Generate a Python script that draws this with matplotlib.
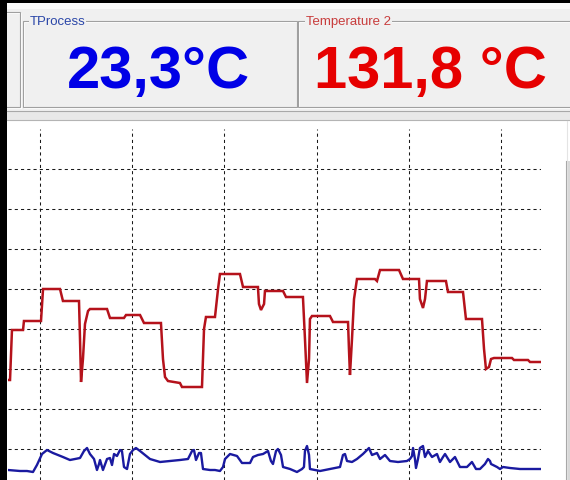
import matplotlib
matplotlib.use("Agg")
import matplotlib.pyplot as plt
from matplotlib.patches import Rectangle

# ---- data (time in minutes, temperature in chart units) ----
channel_names = ["TProcess", "Temperature 2"]
channel_values = ["23,3°C", "131,8 °C"]

temp2_t = [6.53, 6.75, 6.96, 8.16, 8.26, 10.11, 10.33, 12.17, 12.49, 14.23,
           14.34, 14.45, 14.66, 14.88, 15.21, 15.42, 17.27, 17.59, 19.11, 19.33,
           20.85, 21.28, 23.12, 23.34, 23.56, 23.88, 25.18, 25.40, 27.57, 27.79,
           28.00, 28.98, 29.31, 29.52, 31.69, 32.02, 33.64, 33.75, 33.97, 34.30,
           34.40, 36.36, 36.68, 38.52, 38.74, 38.96, 39.18, 39.28, 39.50, 41.45,
           41.78, 43.41, 43.51, 43.62, 43.84, 44.06, 44.38, 46.33, 46.55, 46.88,
           48.94, 49.37, 51.11, 51.21, 51.54, 51.76, 51.97, 54.03, 54.25, 55.88,
           56.20, 57.94, 58.16, 58.37, 58.70, 58.92, 59.24, 61.19, 61.41, 62.93,
           63.15, 64.34]
temp2_val = [109, 109, 159, 159, 168, 168, 200, 200, 188, 188,
             150, 107, 130, 165, 178, 180, 180, 171, 171, 174,
             174, 166, 166, 130, 112, 108, 106, 102, 102, 160,
             172, 172, 200, 215, 215, 202, 202, 185, 179, 185,
             198, 198, 192, 192, 150, 106, 130, 170, 173, 173,
             167, 167, 140, 114, 150, 190, 210, 210, 208, 219,
             219, 210, 210, 190, 181, 190, 208, 208, 197, 197,
             170, 170, 140, 120, 122, 130, 131, 131, 129, 129,
             127, 127]

tproc_t = [6.53, 7.83, 8.59, 9.24, 9.67, 10.22, 10.76, 11.41, 11.95, 12.49,
           13.25, 13.80, 14.34, 14.77, 15.10, 15.42, 15.86, 16.18, 16.40, 16.51,
           16.83, 17.27, 17.59, 17.81, 18.03, 18.35, 18.68, 18.89, 19.11, 19.44,
           19.76, 20.09, 20.41, 20.85, 21.39, 21.93, 23.02, 24.10, 25.18, 26.05,
           26.49, 26.70, 26.92, 27.25, 27.46, 27.68, 28.44, 28.98, 29.52, 29.85,
           30.07, 30.61, 31.37, 31.91, 32.45, 32.78, 33.10, 33.64, 34.19, 34.73,
           35.05, 35.27, 35.60, 35.81, 36.14, 36.36, 37.12, 37.87, 38.42, 38.63,
           38.74, 38.96, 39.18, 39.28, 39.83, 40.37, 41.45, 42.54, 42.86, 43.08,
           43.30, 43.84, 44.38, 45.03, 45.36, 45.68, 46.01, 46.55, 46.88, 47.42,
           47.96, 48.83, 49.80, 50.13, 50.35, 50.46, 50.67, 50.78, 51.00, 51.21,
           51.54, 51.76, 52.08, 52.52, 53.06, 53.38, 53.71, 53.93, 54.47, 55.01,
           55.55, 56.31, 56.85, 57.29, 57.72, 58.26, 58.59, 58.81, 58.92, 59.57,
           59.89, 60.22, 60.98, 62.06, 63.15, 64.34]
tproc_val = [19, 18, 18, 17, 24, 35, 39, 36, 34, 32,
             29, 30, 31, 38, 41, 35, 30, 19, 25, 29,
             19, 30, 31, 24, 35, 33, 39, 38, 22, 20,
             35, 39, 41, 38, 34, 30, 27, 28, 29, 30,
             38, 39, 29, 36, 36, 20, 19, 19, 18, 22,
             30, 35, 33, 26, 26, 26, 32, 34, 35, 38,
             28, 25, 38, 40, 34, 22, 20, 17, 20, 22,
             38, 43, 34, 20, 19, 18, 20, 22, 34, 35,
             28, 27, 30, 35, 38, 41, 34, 36, 30, 34,
             28, 27, 28, 30, 33, 41, 30, 21, 30, 41,
             43, 32, 38, 32, 35, 27, 32, 35, 27, 32,
             22, 22, 27, 20, 20, 25, 30, 28, 25, 22,
             20, 22, 21, 20, 20, 20]

time_grid = [10, 20, 30, 40, 50, 60]
temp_grid = [40, 80, 120, 160, 200, 240, 280, 320]

W, H = 570, 481
fig = plt.figure(figsize=(W / 100, H / 100), dpi=100, facecolor='#F0F0F0')

# ---- window chrome, drawn in pixel coordinates ----
bg = fig.add_axes([0, 0, 1, 1])
bg.set_xlim(0, W)
bg.set_ylim(H, 0)
bg.axis('off')

bg.add_patch(Rectangle((0, 0), W, 4, color='black', lw=0))
bg.add_patch(Rectangle((0, 4), W, 6, color='#FBFBFB', lw=0))

def etched_box(x0, y0, x1, y1):
    bg.add_patch(Rectangle((x0 + 1, y0 + 1), x1 - x0, y1 - y0, fill=False,
                           ec='white', lw=0.8))
    bg.add_patch(Rectangle((x0, y0), x1 - x0, y1 - y0, fill=False,
                           ec='#A0A0A0', lw=0.8))

etched_box(-10, 13, 20, 108)
etched_box(23, 22, 297, 108)
etched_box(298, 22, 600, 108)

label_colors = ['#2A46A8', '#C83C3C']
value_colors = ['#0000E6', '#E60000']
label_x = [30, 306]
value_x = [158, 430]
for name, val, lc, vc, lx, vx in zip(channel_names, channel_values,
                                     label_colors, value_colors, label_x, value_x):
    bg.text(lx, 22, name, color=lc, fontsize=9.5, family='Liberation Sans',
            ha='left', va='center',
            bbox=dict(fc='#F0F0F0', ec='none', pad=0.5))
    bg.text(vx, 88, val, color=vc, fontsize=43, fontweight='bold',
            family='Liberation Sans', ha='center', va='baseline')

# separator strip above the chart
bg.add_patch(Rectangle((7, 112), W, 9, color='#E8E8E8', lw=0))
bg.plot([7, W], [112, 112], color='#A8A8A8', lw=0.8)
bg.plot([7, W], [121, 121], color='#B4B4B4', lw=0.8)
bg.add_patch(Rectangle((7, 121.5), W, H, color='white', lw=0))
# right edge of the chart panel
bg.plot([567, 567], [122, H], color='#E4E4E4', lw=0.8)
bg.add_patch(Rectangle((566, 162), 6, H, color='#D8D8D8', lw=0))
bg.plot([566, 566], [162, H], color='#A8A8A8', lw=0.8)
# black frame on the left
bg.add_patch(Rectangle((0, 0), 7, H, color='black', lw=0))

# ---- trend chart ----
ax = fig.add_axes([8 / W, 0, (541 - 8) / W, (H - 130) / H])
ax.set_facecolor('none')
ax.set_xlim(6.53, 64.34)
ax.set_ylim(9, 360)
ax.set_xticks(time_grid)
ax.set_yticks(temp_grid)
ax.tick_params(length=0, labelbottom=False, labelleft=False)
for s in ax.spines.values():
    s.set_visible(False)
ax.grid(True, color='#1A1A1A', lw=0.75, ls=(0, (3, 3)))
ax.set_axisbelow(True)

ax.plot(temp2_t, temp2_val, color='#B5121B', lw=1.8, solid_joinstyle='miter')
ax.plot(tproc_t, tproc_val, color='#1A1AA0', lw=1.7)

plt.savefig('out.png', dpi=100, facecolor=fig.get_facecolor())
